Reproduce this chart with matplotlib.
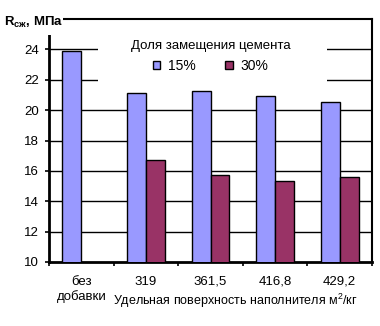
import matplotlib
matplotlib.use("Agg")
import matplotlib.pyplot as plt
from matplotlib.patches import Rectangle
import numpy as np

plt.rcParams['font.family'] = ['Liberation Sans', 'DejaVu Sans']
plt.rcParams['mathtext.fontset'] = 'custom'
plt.rcParams['mathtext.rm'] = 'Liberation Sans'
plt.rcParams['mathtext.bf'] = 'Liberation Sans:bold'

# Данные
categories = ['без\nдобавки', '319', '361,5', '416,8', '429,2']
series_names = ['15%', '30%']
vals_15 = [23.9, 21.1, 21.25, 20.92, 20.52]
vals_30 = [np.nan, 16.72, 15.74, 15.36, 15.6]
yticks = [10, 12, 14, 16, 18, 20, 22, 24]

fig = plt.figure(figsize=(3.8, 3.26), dpi=100)
ax = fig.add_axes([49/380, 1 - 262/326, 323/380, 243/326])

x = np.arange(len(categories))
w = 0.294
ax.bar(x - w/2, vals_15, w, color='#9999FF', edgecolor='black', linewidth=1, label=series_names[0], zorder=3)
ax.bar(x + w/2, vals_30, w, color='#993366', edgecolor='black', linewidth=1, label=series_names[1], zorder=3)

ax.set_ylim(10, 26)
ax.set_xlim(-0.5, len(categories) - 0.5)
ax.set_yticks(yticks)
ax.tick_params(axis='y', direction='out', length=3, width=1.2, pad=4, labelsize=9.5)
for t in yticks[1:]:
    ax.axhline(t, color='black', linewidth=1, zorder=1)

# засечки на границах категорий, подписи по центру
ax.set_xticks(np.arange(len(categories) + 1) - 0.5)
ax.set_xticklabels([])
ax.set_xticks(x, minor=True)
ax.set_xticklabels(categories, minor=True, fontsize=9.5, linespacing=1.2)
ax.tick_params(axis='x', which='major', direction='out', length=3, width=1.2)
ax.tick_params(axis='x', which='minor', length=0, pad=10)

for s in ['left', 'bottom']:
    ax.spines[s].set_linewidth(2)
for s in ['top', 'right']:
    ax.spines[s].set_linewidth(1.5)

# белая подложка под легендой
ax.add_patch(Rectangle((0.152, 0.69), 0.709, 0.29, transform=ax.transAxes,
                       facecolor='white', edgecolor='none', zorder=2))
leg = ax.legend(loc='upper center', bbox_to_anchor=(0.5, 0.965), ncol=2, frameon=False,
                title='Доля замещения цемента', title_fontsize=9.5, fontsize=10,
                handlelength=0.55, handleheight=0.55, handletextpad=0.55, columnspacing=2.1)
leg.set_zorder(4)

# подпись оси Y
fig.add_artist(Rectangle((0, 1 - 35/326), 63/380, 30/326, transform=fig.transFigure,
                         facecolor='white', edgecolor='none', zorder=2))
fig.text(4/380, 1 - 26/326, r'$\mathbf{R}_{\mathbf{сж}}$, МПа', fontsize=9.5,
         fontweight='bold', ha='left', va='baseline', zorder=3)

fig.text(113/380, 1 - 305/326, 'Удельная поверхность наполнителя м$^2$/кг',
         fontsize=9, ha='left', va='baseline')

fig.savefig('out.png', dpi=100)
